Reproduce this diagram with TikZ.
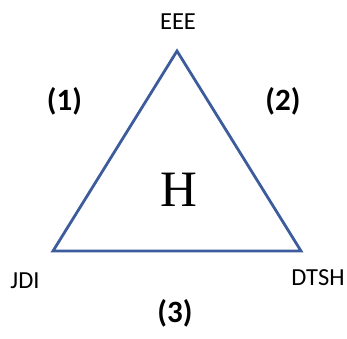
\documentclass[tikz,border=0pt]{standalone}
\usepackage{fontspec}
\setmainfont{Carlito}
\newfontfamily\hserif{Liberation Serif}
\definecolor{triblue}{HTML}{3C5C9C}
\begin{document}
\begin{tikzpicture}[x=1pt,y=-1pt,
  vlabel/.style={inner sep=0pt,font=\fontsize{24.5}{28}\selectfont},
  plabel/.style={inner sep=0pt,font=\fontsize{31}{35}\selectfont\bfseries},
  hlabel/.style={inner sep=0pt,font=\hserif\fontsize{51}{56}\selectfont}]
\useasboundingbox (0,0) rectangle (347,338);
\coordinate (T) at (177,51);
\coordinate (L) at (53,251);
\coordinate (R) at (301,251);
\draw[triblue,line width=2.8pt,line join=miter] (T) -- (L) -- (R) -- cycle;
\node[vlabel] (eee) at (178,22) {EEE};
\node[vlabel] (jdi) at (25,281) {JDI};
\node[vlabel] (dtsh) at (318,278) {DTSH};
\node[plabel] (p1) at (64.5,101) {(1)};
\node[plabel] (p2) at (283,101) {(2)};
\node[plabel] (p3) at (175,313) {(3)};
\node[hlabel] (h) at (179,189.5) {H};
\end{tikzpicture}
\end{document}
